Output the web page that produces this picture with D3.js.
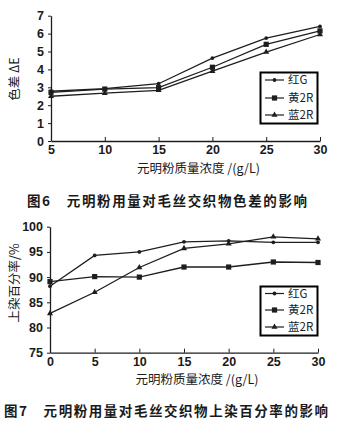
<!DOCTYPE html>
<html><head><meta charset="utf-8">
<script src="https://cdn.jsdelivr.net/npm/d3@7"></script>
<style>
html,body{margin:0;padding:0;background:#fff;}
svg{display:block;}
text{fill:#1a1a1a;}
</style></head>
<body>
<svg id="c" width="343" height="434"></svg>
<script>
// ---- Data ----
const seriesNames = ["红G", "黄2R", "蓝2R"];
const fig6X = [5, 10, 15, 20, 25, 30];
const fig6Red = [2.78, 2.93, 3.2, 4.63, 5.75, 6.4];
const fig6Yellow = [2.72, 2.9, 2.98, 4.12, 5.4, 6.15];
const fig6Blue = [2.5, 2.67, 2.83, 3.9, 4.97, 5.95];
const fig6YTicks = [0, 1, 2, 3, 4, 5, 6, 7];

const fig7X = [0, 5, 10, 15, 20, 25, 30];
const fig7Red = [88.2, 94.3, 95.0, 97.0, 97.2, 96.9, 96.9];
const fig7Yellow = [89.1, 90.1, 90.0, 92.0, 92.0, 93.0, 92.9];
const fig7Blue = [82.8, 87.0, 91.9, 95.7, 96.6, 98.0, 97.6];
const fig7YTicks = [75, 80, 85, 90, 95, 100];

const xTitle = "元明粉质量浓度 /(g/L)";
const fig6YTitle = "色差 ΔE";
const fig7YTitle = "上染百分率/%";
const fig6Caption = "图6　元明粉用量对毛丝交织物色差的影响";
const fig7Caption = "图7　元明粉用量对毛丝交织物上染百分率的影响";

const svg = d3.select("#c");
const ink = "#1e1e1e";
const numFont = "Liberation Sans, Arial, sans-serif";
const cjkFont = "Noto Sans CJK SC, sans-serif";

function marker(g, type, x, y) {
  if (type === 0) {
    g.append("circle").attr("cx", x).attr("cy", y).attr("r", 1.9).attr("fill", ink);
  } else if (type === 1) {
    g.append("rect").attr("x", x - 2.6).attr("y", y - 2.6).attr("width", 5.2).attr("height", 5.2).attr("fill", ink);
  } else {
    g.append("path").attr("d", d3.symbol(d3.symbolTriangle, 16)()).attr("transform", `translate(${x},${y})`).attr("fill", ink);
  }
}

function chart(cfg) {
  const g = svg.append("g");
  const x = d3.scaleLinear().domain(cfg.xDomain).range([cfg.left, cfg.right]);
  const y = d3.scaleLinear().domain(cfg.yDomain).range([cfg.bottom, cfg.top]);

  // axes
  const xa = g.append("g").attr("transform", `translate(0,${cfg.bottom})`)
    .call(d3.axisBottom(x).tickValues(cfg.xs).tickFormat(d3.format("d")).tickSize(-4).tickPadding(6).tickSizeOuter(0));
  xa.select(".domain").attr("stroke", ink).attr("stroke-width", 1.3);
  xa.selectAll(".tick line").attr("stroke", ink).attr("stroke-width", 1);
  xa.selectAll(".tick text").attr("font-family", numFont).attr("font-size", 12.5).attr("font-weight", "bold").attr("fill", ink).attr("dy", "0.55em");

  const ya = g.append("g").attr("transform", `translate(${cfg.left},0)`)
    .call(d3.axisLeft(y).tickValues(cfg.yTicks).tickFormat(d3.format("d")).tickSize(3).tickPadding(4).tickSizeOuter(0));
  ya.select(".domain").attr("stroke", ink).attr("stroke-width", 1.3);
  ya.selectAll(".tick line").attr("stroke", ink).attr("stroke-width", 1);
  ya.selectAll(".tick text").attr("font-family", numFont).attr("font-size", 12.5).attr("font-weight", "bold").attr("fill", ink);

  // lines
  const line = d3.line().x((d, i) => x(cfg.xs[i])).y(d => y(d));
  cfg.series.forEach((s, k) => {
    g.append("path").attr("d", line(s)).attr("fill", "none").attr("stroke", ink).attr("stroke-width", 1.3);
    s.forEach((v, i) => marker(g, k, x(cfg.xs[i]), y(v)));
  });

  // legend frame
  const lg = g.append("g");
  const L = cfg.legend;
  lg.append("rect").attr("x", L[0] + 0.5).attr("y", L[1] + 0.5).attr("width", 57).attr("height", L[2])
    .attr("fill", "white").attr("stroke", "black").attr("stroke-width", 2);
  seriesNames.forEach((n, k) => {
    const ly = L[1] + cfg.legendRows[k];
    lg.append("line").attr("x1", L[0] + 5).attr("x2", L[0] + 24).attr("y1", ly).attr("y2", ly).attr("stroke", ink).attr("stroke-width", 1.2);
    marker(lg, k, L[0] + 14.5, ly);
    lg.append("text").attr("x", L[0] + 28).attr("y", ly).attr("dy", "0.36em")
      .attr("font-family", cjkFont).attr("font-size", 11.5).attr("fill", ink).text(n);
  });

  // titles
  g.append("text").attr("x", (cfg.left + cfg.right) / 2 + 13).attr("y", cfg.bottom + 27).attr("dy", "0.36em")
    .attr("text-anchor", "middle").attr("font-family", cjkFont).attr("font-size", 12.5).attr("fill", ink).text(xTitle);
  g.append("text").attr("transform", `translate(14,${cfg.yTitleY}) rotate(-90)`).attr("dy", "0.36em")
    .attr("text-anchor", "middle").attr("font-family", cjkFont).attr("font-size", 12.5).attr("fill", ink).text(cfg.yTitle);
  g.append("text").attr("x", cfg.caption[0]).attr("y", cfg.caption[2]).attr("dy", "0.36em")
    .attr("textLength", cfg.caption[1] - cfg.caption[0]).attr("lengthAdjust", "spacing")
    .attr("font-family", cjkFont).attr("font-size", 13.5).attr("font-weight", "bold").attr("fill", ink).text(cfg.captionText);
}

chart({
  xDomain: [5, 30], yDomain: [0, 7], xs: fig6X, yTicks: fig6YTicks,
  left: 51, right: 320, top: 15.7, bottom: 141,
  series: [fig6Red, fig6Yellow, fig6Blue],
  legend: [260, 72, 51], legendRows: [8, 26, 43],
  yTitle: fig6YTitle, yTitleY: 79,
  caption: [27, 307, 201], captionText: fig6Caption
});

chart({
  xDomain: [0, 30], yDomain: [75, 100], xs: fig7X, yTicks: fig7YTicks,
  left: 50, right: 318, top: 226.7, bottom: 352.7,
  series: [fig7Red, fig7Yellow, fig7Blue],
  legend: [260, 286, 49], legendRows: [7.5, 24, 41],
  yTitle: fig7YTitle, yTitleY: 283,
  caption: [4, 328, 411.5], captionText: fig7Caption
});
</script>
</body></html>
